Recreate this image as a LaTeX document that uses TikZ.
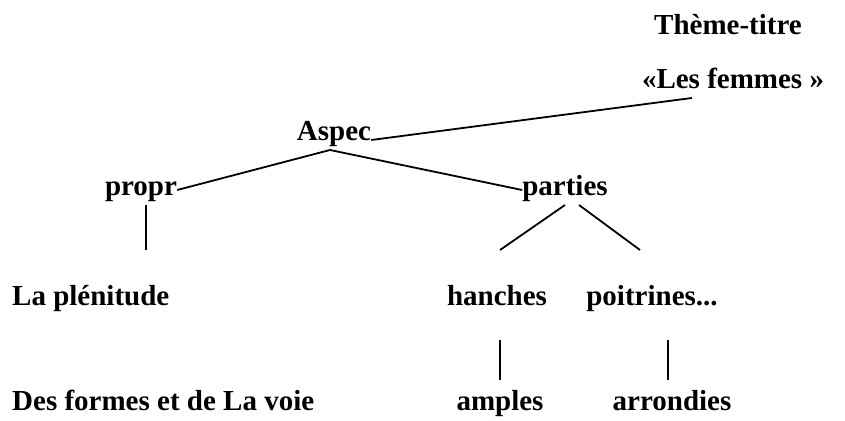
\documentclass[tikz,border=0pt]{standalone}
\usepackage{fontspec}
\setmainfont{Liberation Serif}
\usetikzlibrary{calc}
\begin{document}
\begin{tikzpicture}[x=1pt,y=-1pt,
  lbl/.style={inner sep=0pt, anchor=base, font=\bfseries\fontsize{29}{32}\selectfont},
  conn/.style={line width=1.8pt, black}]
\useasboundingbox (0,0) rectangle (845,420);
\node[lbl] (theme) at (728,35) {Thème-titre};
\node[lbl] (femmes) at (733,88) {«Les femmes »};
\node[lbl] (aspec) at (334,140) {Aspec};
\node[lbl] (propr) at (141,195) {propr};
\node[lbl] (parties) at (565,195) {parties};
\node[lbl,anchor=base west] (plen) at (12,305) {La plénitude};
\node[lbl] (hanches) at (497,305) {hanches};
\node[lbl] (poit) at (652,305) {poitrines...};
\node[lbl,anchor=base west] (formes) at (12,410) {Des formes et de La voie};
\node[lbl] (amples) at (500,410) {amples};
\node[lbl] (arr) at (672,410) {arrondies};
% connectors
\draw[conn] (aspec.base east) -- ($(femmes.base west)+(50,10)$);
\draw[conn] ($(aspec.base)+(-4,10)$) -- ($(propr.base east)+(0,-5)$);
\draw[conn] ($(aspec.base)+(-4,10)$) -- ($(parties.base west)+(0,-5)$);
\draw[conn] ($(propr.base)+(5,10)$) -- ($(propr.base)+(5,55)$);
\draw[conn] ($(parties.base)+(0,10)$) -- ($(hanches.base)+(3,-55)$);
\draw[conn] ($(parties.base)+(14,10)$) -- ($(poit.base)+(-12,-55)$);
\draw[conn] ($(hanches.base)+(3,35)$) -- ($(amples.base)+(0,-30)$);
\draw[conn] ($(poit.base)+(16,35)$) -- ($(arr.base)+(-4,-30)$);
\end{tikzpicture}
\end{document}
